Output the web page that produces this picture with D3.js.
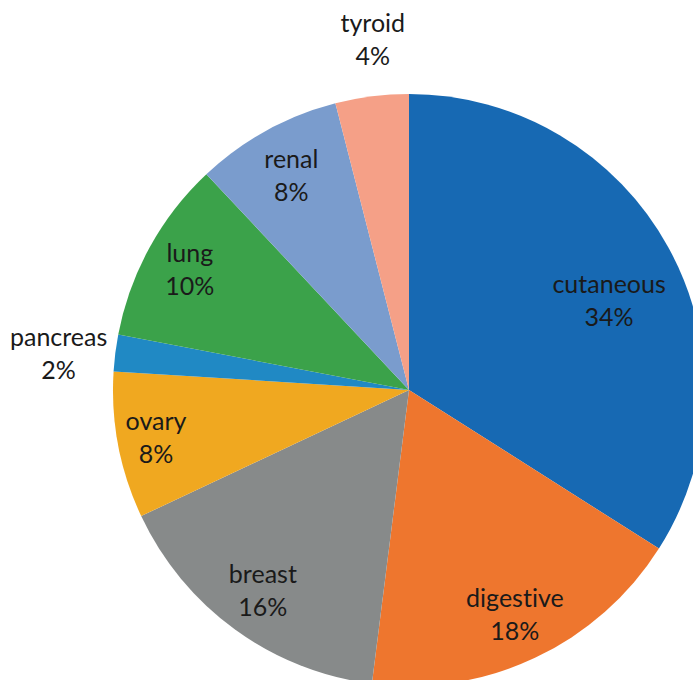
<!DOCTYPE html>
<html>
<head>
<meta charset="utf-8">
<script src="https://cdn.jsdelivr.net/npm/d3@7"></script>
<style>
  html, body { margin: 0; padding: 0; background: #fff; overflow: hidden; }
  svg { display: block; }
  text { font-family: Lato, "Open Sans", sans-serif; font-size: 25px; fill: #1a1a1a;
         font-variant-ligatures: none; font-feature-settings: "liga" 0; }
</style>
</head>
<body>
<svg id="chart" width="693" height="680"></svg>
<script>
// Cancer sites and their share of cases (%)
const categories = ["cutaneous", "digestive", "breast", "ovary", "pancreas", "lung", "renal", "tyroid"];
const values = [34, 18, 16, 8, 2, 10, 8, 4];
const colors = ["#1769b3", "#ee762e", "#878a8a", "#f0a820", "#2089c4", "#3ba24a", "#7a9ccd", "#f5a087"];
// label placement: distance as a fraction of the radius, and a small angular nudge (degrees)
const labelRadius = [0.74, 0.84, 0.84, 0.87, 1.19, 0.845, 0.825, 1.19];
const labelNudge = [4.8, 0, 0, 0, -1.3, 0, 0, 1.3];

const data = categories.map((c, i) => ({
  name: c, value: values[i], color: colors[i], lr: labelRadius[i], nudge: labelNudge[i]
}));

const cx = 409, cy = 390, r = 296;
const svg = d3.select("#chart");
const g = svg.append("g").attr("transform", `translate(${cx},${cy})`);

const pie = d3.pie().value(d => d.value).sort(null);
const arc = d3.arc().innerRadius(0).outerRadius(r);
const arcs = pie(data);

g.selectAll("path.slice")
  .data(arcs)
  .join("path")
  .attr("class", "slice")
  .attr("d", arc)
  .attr("fill", d => d.data.color);

const labels = g.selectAll("g.label")
  .data(arcs)
  .join("g")
  .attr("class", "label")
  .attr("transform", d => {
    const a = (d.startAngle + d.endAngle) / 2 + d.data.nudge * Math.PI / 180;
    const lr = d.data.lr * r;
    return `translate(${lr * Math.sin(a)},${-lr * Math.cos(a)})`;
  });

labels.append("text")
  .attr("text-anchor", "middle")
  .attr("y", -8)
  .text(d => d.data.name);
labels.append("text")
  .attr("text-anchor", "middle")
  .attr("y", 25)
  .text(d => d.data.value + "%");
</script>
</body>
</html>
